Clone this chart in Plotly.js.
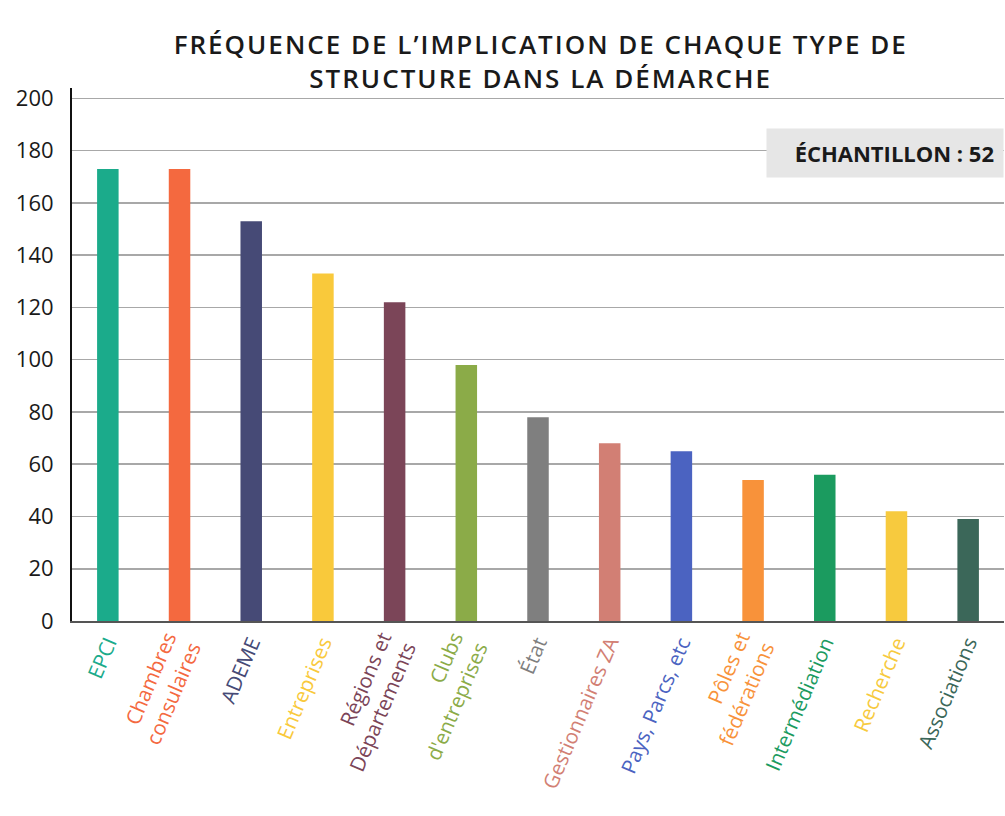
<!DOCTYPE html>
<html>
<head>
<meta charset="utf-8">
<script src="https://cdn.plot.ly/plotly-3.0.1.min.js"></script>
<style>html,body{margin:0;padding:0;background:#fff;}#chart{width:1005px;height:816px;}
#chart .gtitle{letter-spacing:2px;}
</style>
</head>
<body>
<div id="chart"></div>
<script>
const categories = ["EPCI", "Chambres consulaires", "ADEME", "Entreprises", "Régions et Départements", "Clubs d'entreprises", "État", "Gestionnaires ZA", "Pays, Parcs, etc", "Pôles et fédérations", "Intermédiation", "Recherche", "Associations"];
const tickLabels = ["EPCI", "Chambres<br>consulaires", "ADEME", "Entreprises", "Régions et<br>Départements", "Clubs<br>d'entreprises", "État", "Gestionnaires ZA", "Pays, Parcs, etc", "Pôles et<br>fédérations", "Intermédiation", "Recherche", "Associations"];
const values = [173, 173, 153, 133, 122, 98, 78, 68, 65, 54, 56, 42, 39];
const colors = ["#1bab8b", "#f4693f", "#464a76", "#f9c93b", "#7b4558", "#8bab48", "#7f7f7f", "#d27f74", "#4b63c1", "#f8923a", "#1b9b5f", "#f7ca3e", "#3b6759"];
const sampleText = "ÉCHANTILLON : 52";
const titleText = "FRÉQUENCE DE L’IMPLICATION DE CHAQUE TYPE DE<br>STRUCTURE DANS LA DÉMARCHE";

const coloredTicks = tickLabels.map((t, i) => '<span style="color:' + colors[i] + '">' + t + '</span>');

const trace = {
  type: 'bar',
  x: categories,
  y: values,
  width: 0.3,
  marker: {color: colors},
  hoverinfo: 'x+y'
};

const layout = {
  width: 1005,
  height: 816,
  margin: {l: 72, r: 1, t: 88, b: 195},
  paper_bgcolor: '#fff',
  plot_bgcolor: '#fff',
  showlegend: false,
  font: {family: '"Open Sans", Lato, sans-serif', color: '#222'},
  title: {
    text: titleText,
    font: {family: '"Open Sans", Lato, sans-serif', size: 26, color: '#1a1a1a', weight: 600},
    x: 0.538, xanchor: 'center',
    y: 0.934, yanchor: 'middle', yref: 'container'
  },
  xaxis: {
    type: 'category',
    tickmode: 'array',
    tickvals: categories,
    ticktext: coloredTicks,
    tickangle: -67,
    tickfont: {size: 20.5, family: '"Open Sans", Lato, sans-serif'},
    showline: true,
    linecolor: '#555',
    linewidth: 2,
    showgrid: false,
    ticks: '',
    automargin: false,
    range: [-0.5, 12.5],
    fixedrange: true
  },
  yaxis: {
    range: [0, 204],
    tickvals: [0, 20, 40, 60, 80, 100, 120, 140, 160, 180, 200],
    tickfont: {size: 22, color: '#1a1a1a', family: '"Open Sans", Lato, sans-serif'},
    showline: true,
    linecolor: '#111',
    linewidth: 2,
    showgrid: true,
    gridcolor: '#a8a8a8',
    gridwidth: 1.5,
    zeroline: false,
    ticks: '',
    automargin: false,
    ticklabelstandoff: 12,
    fixedrange: true
  },
  annotations: [{
    text: '<b>' + sampleText + '</b>',
    xref: 'paper', yref: 'paper',
    x: 1, y: 0.878,
    xanchor: 'right', yanchor: 'middle',
    showarrow: false,
    bgcolor: '#e6e6e6',
    borderpad: 9,
    font: {size: 22, color: '#1a1a1a', family: '"Open Sans", Lato, sans-serif'},
    width: 218,
    align: 'right'
  }]
};

Plotly.newPlot('chart', [trace], layout, {displayModeBar: false, staticPlot: true});
</script>
</body>
</html>
